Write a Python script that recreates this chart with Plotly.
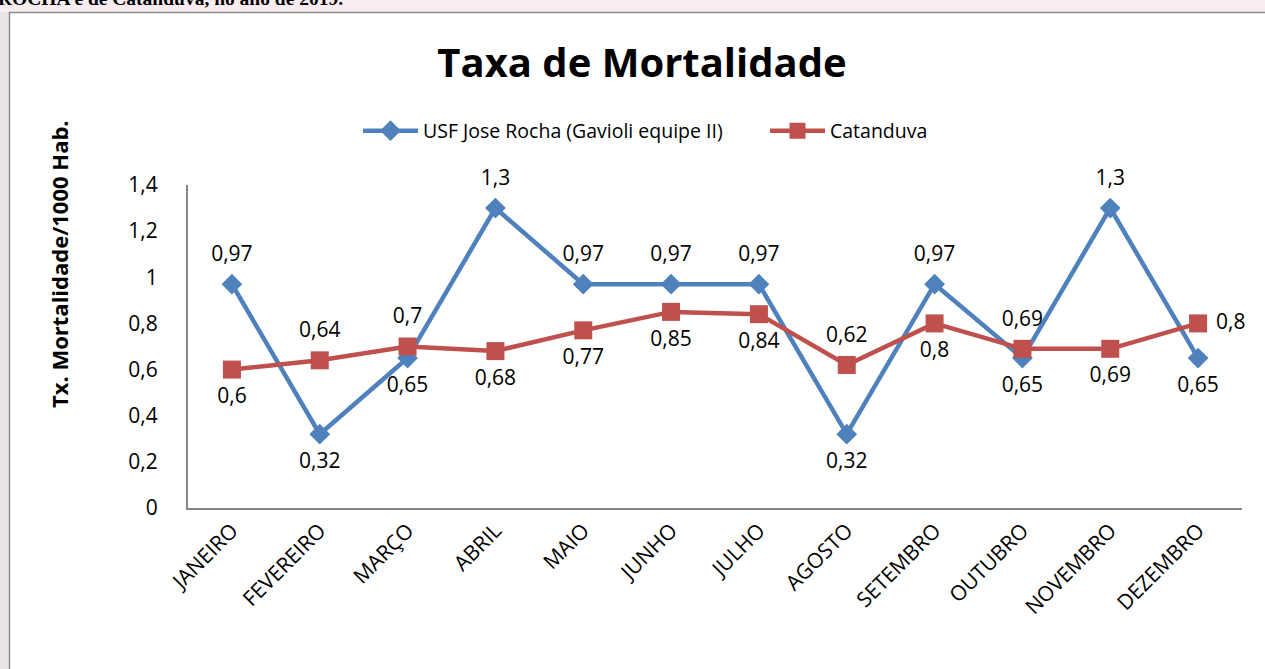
import plotly.graph_objects as go

months = ["JANEIRO", "FEVEREIRO", "MARÇO", "ABRIL", "MAIO", "JUNHO", "JULHO",
          "AGOSTO", "SETEMBRO", "OUTUBRO", "NOVEMBRO", "DEZEMBRO"]
usf = [0.97, 0.32, 0.65, 1.3, 0.97, 0.97, 0.97, 0.32, 0.97, 0.65, 1.3, 0.65]
catanduva = [0.6, 0.64, 0.7, 0.68, 0.77, 0.85, 0.84, 0.62, 0.8, 0.69, 0.69, 0.8]
yticks = [0, 0.2, 0.4, 0.6, 0.8, 1.0, 1.2, 1.4]
ytick_labels = ["0", "0,2", "0,4", "0,6", "0,8", "1", "1,2", "1,4"]

usf_pos = ["top center", "bottom center", "bottom center", "top center", "top center",
           "top center", "top center", "bottom center", "top center", "bottom center",
           "top center", "bottom center"]
cat_pos = ["bottom center", "top center", "top center", "bottom center", "bottom center",
           "bottom center", "bottom center", "top center", "bottom center", "top center",
           "bottom center", "middle right"]

def fmt(v):
    return ("%g" % v).replace(".", ",")

FONT = "Open Sans"
W, H = 1265, 669
L, R, T, B = 188, 23, 185, 161
PW, PH = W - L - R, H - T - B

def px(xp):
    return (xp - L) / PW

def py(yp):
    return (H - B - yp) / PH

BLUE, RED = "#4F81BD", "#C0504D"

fig = go.Figure()
fig.add_trace(go.Scatter(
    x=months, y=usf, name="USF Jose Rocha (Gavioli equipe II)",
    mode="lines+markers",
    line=dict(color=BLUE, width=4.5),
    marker=dict(symbol="diamond", size=16, color=BLUE),
    cliponaxis=False,
))
fig.add_trace(go.Scatter(
    x=months, y=catanduva, name="Catanduva",
    mode="lines+markers",
    line=dict(color=RED, width=4.5),
    marker=dict(symbol="square", size=18, color=RED),
    cliponaxis=False,
))
# data labels (invisible larger markers give the label offset)
for vals, pos in ((usf, usf_pos), (catanduva, cat_pos)):
    fig.add_trace(go.Scatter(
        x=months, y=vals, mode="markers+text", showlegend=False, hoverinfo="skip",
        marker=dict(size=27, opacity=0),
        text=[fmt(v) for v in vals], textposition=pos,
        textfont=dict(family=FONT, size=21, color="black"),
        cliponaxis=False,
    ))

fig.update_layout(
    width=W, height=H,
    margin=dict(l=L, r=R, t=T, b=B, autoexpand=False),
    paper_bgcolor="white", plot_bgcolor="white",
    font=dict(family=FONT, color="black"),
    title=dict(text="<b>Taxa de Mortalidade</b>", x=642 / W, xanchor="center",
               y=1 - 63 / H, yanchor="middle", font=dict(size=40, family=FONT)),
    showlegend=True,
    legend=dict(orientation="h", x=px(358), xanchor="left", y=py(131), yanchor="middle",
                font=dict(size=19.5, family=FONT), tracegroupgap=0, itemwidth=55,
                entrywidth=337, entrywidthmode="pixels",
                bgcolor="rgba(0,0,0,0)"),
    xaxis=dict(type="category", range=[-0.5, 11.5], showgrid=False, showline=True,
               linecolor="#868686", linewidth=2, ticks="", tickangle=-45,
               tickfont=dict(size=21, family=FONT), fixedrange=True),
    yaxis=dict(range=[0, 1.4], tickvals=yticks, ticktext=ytick_labels, showgrid=False,
               showline=True, linecolor="#868686", linewidth=2, ticks="",
               tickfont=dict(size=21, family=FONT), zeroline=False, ticklabelstandoff=24,
               fixedrange=True),
    shapes=[
        dict(type="rect", xref="paper", yref="paper", x0=px(-5), x1=px(W + 5),
             y0=py(12), y1=py(-5), fillcolor="#F7EDF1", line=dict(width=0), layer="below"),
        dict(type="rect", xref="paper", yref="paper", x0=px(-5), x1=px(9),
             y0=py(H + 5), y1=py(12), fillcolor="#EAE6E8", line=dict(width=0), layer="below"),
        dict(type="rect", xref="paper", yref="paper", x0=px(9.5), x1=px(W + 20),
             y0=py(H + 20), y1=py(12.5), fillcolor="rgba(0,0,0,0)",
             line=dict(color="#8C8C8C", width=1.5), layer="below"),
    ],
    annotations=[
        dict(text="<b>Tx. Mortalidade/1000 Hab.</b>", xref="paper", yref="paper",
             x=px(59), y=py(264), textangle=-90, showarrow=False,
             font=dict(size=22, family=FONT), xanchor="center", yanchor="middle"),
        dict(text="<b>ROCHA e de Catanduva, no ano de 2019.</b>", xref="paper", yref="paper",
             x=px(-4), y=py(11), xanchor="left", yanchor="bottom", showarrow=False,
             font=dict(size=19.5, family="Liberation Serif", color="black")),
    ],
)

fig.write_html("out.html", config={"displayModeBar": False},
               post_script="document.body.style.margin='0';")
